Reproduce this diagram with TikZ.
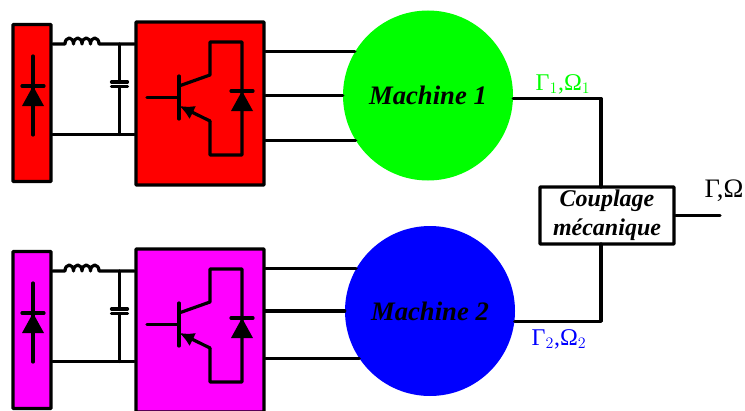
\documentclass[tikz,border=0pt]{standalone}
\usepackage{fontspec}
\setmainfont{Liberation Serif}
\usetikzlibrary{arrows.meta}
\def\px{.75pt}
\definecolor{vert}{RGB}{0,255,0}
\definecolor{bleu}{RGB}{0,0,255}
\definecolor{rouge}{RGB}{255,0,0}
\definecolor{rose}{RGB}{255,0,255}
\tikzset{
    wire/.style={line width=2.4pt,line cap=round,line join=round},
    block/.style={draw,line width=2.4pt,rounded corners=.5pt,inner sep=0pt},
    machine/.style={circle,minimum size=170*\px,inner sep=0pt,font=\fontsize{20}{24}\selectfont\bfseries\itshape},
    grandeur/.style={inner sep=0pt,font=\fontsize{18}{20}\selectfont}
}
\begin{document}
\begin{tikzpicture}[x=.75pt,y=-.75pt]
    \useasboundingbox (0,0) rectangle (745,410);
    \clip (0,0) rectangle (745,410);
    % rectifier, filter and inverter of each machine
    \foreach \i/\dy/\col in {1/0/rouge,2/227/rose}{
        \begin{scope}[shift={(0,\dy)}]
            \node[block,fill=\col,minimum width=38*\px,minimum height=157*\px] (rec\i) at (32,103) {};
            \node[block,fill=\col,minimum width=128*\px,minimum height=163*\px] (inv\i) at (200,103.5) {};
            \coordinate (la\i) at (65,44);
            \coordinate (lb\i) at (99,44);
            \coordinate (ca\i) at (119.5,44);
            \coordinate (cb\i) at (119.5,134.5);
            \draw[wire] (rec\i.east |- la\i) -- (la\i)
                arc[start angle=180,end angle=360,x radius=4.25,y radius=6]
                arc[start angle=180,end angle=360,x radius=4.25,y radius=6]
                arc[start angle=180,end angle=360,x radius=4.25,y radius=6]
                arc[start angle=180,end angle=360,x radius=4.25,y radius=6]
                -- (inv\i.west |- lb\i);
            \draw[wire] (rec\i.east |- cb\i) -- (inv\i.west |- cb\i);
            \draw[wire] (ca\i) -- (119.5,82) (119.5,86.5) -- (cb\i);
            \draw[wire] (111.5,82) -- (127.5,82) (111.5,86.5) -- (127.5,86.5);
            % diode of the rectifier
            \draw[wire] (33,56) -- (33,135) (22,86) -- (44,86);
            \fill (33,86) -- (44,106) -- (22,106) -- cycle;
            % transistor and its diode
            \draw[wire] (147,97.5) -- (179,97.5) (179,76) -- (179,119);
            \draw[wire] (179,86) -- (210,75) -- (210,42) -- (242,42) -- (242,155) -- (210,155) -- (210,121);
            \draw[wire,-{Latex[length=11pt,width=11pt]}] (210,121) -- (179.5,106);
            \draw[wire] (231,91) -- (253,91);
            \fill (242,91) -- (253,111) -- (231,111) -- cycle;
        \end{scope}
    }
    \node[machine,fill=vert] (m1) at (428,95.5) {Machine 1};
    \node[machine,fill=bleu] (m2) at (430,311) {Machine 2};
    \draw[wire] (inv1.east |- m1.149) -- (m1.149);
    \draw[wire] (inv1.east |- m1.west) -- (m1.west);
    \draw[wire] (inv1.east |- m1.212) -- (m1.212);
    \draw[wire] (inv2.east |- m2.150) -- (m2.150);
    \draw[wire] (inv2.east |- m2.west) -- (m2.west);
    \draw[wire] (inv2.east |- m2.214) -- (m2.214);
    % mechanical coupling
    \node[block,fill=white,minimum width=134*\px,minimum height=57*\px,align=center,font=\fontsize{18}{22}\selectfont\bfseries\itshape] (cpl) at (607,215.5) {\raisebox{-2pt}{Couplage}\\\raisebox{-2pt}{mécanique}};
    \coordinate (ja) at (601,187);
    \coordinate (jb) at (601,244);
    \coordinate (sortie) at (720,215.5);
    \draw[wire] (m1.358) -| (ja);
    \draw[wire] (m2.353) -| (jb);
    \draw[wire] (cpl.east) -- (sortie);
    \node[grandeur,text=vert] (g1) at (563,84) {Γ$_1$,Ω$_1$};
    \node[grandeur,text=bleu] (g2) at (559,339) {Γ$_2$,Ω$_2$};
    \node[grandeur,font=\fontsize{20}{22}\selectfont] (g) at (724,191) {Γ,Ω};
\end{tikzpicture}
\end{document}
